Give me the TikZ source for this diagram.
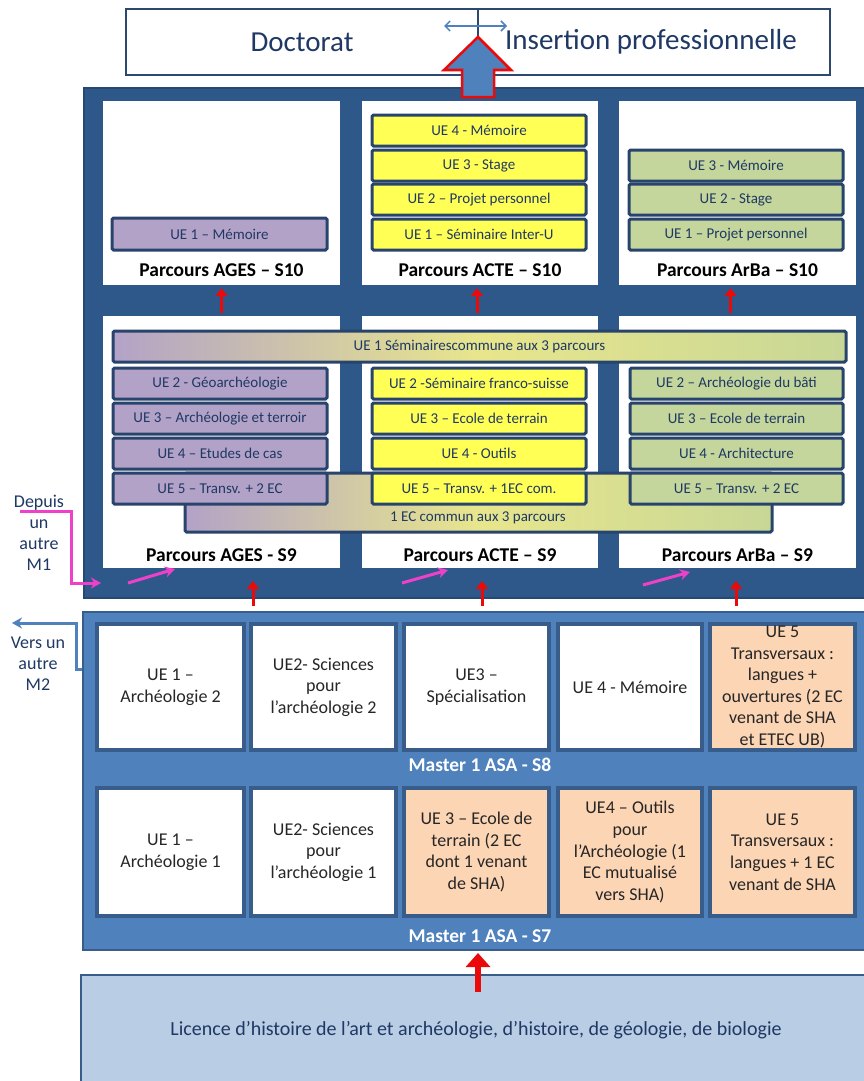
\documentclass[tikz,border=0pt]{standalone}
\usepackage{fontspec}
\setmainfont{Carlito}
\usetikzlibrary{arrows.meta,calc}
\definecolor{txtnavy}{RGB}{31,56,100}
\definecolor{panelD}{RGB}{46,88,138}
\definecolor{panelDb}{RGB}{38,72,115}
\definecolor{rowb}{RGB}{40,68,108}
\definecolor{purp}{RGB}{179,162,199}
\definecolor{yel}{RGB}{255,255,85}
\definecolor{grn}{RGB}{196,214,155}
\definecolor{peach}{RGB}{252,213,181}
\definecolor{mfill}{RGB}{79,129,189}
\definecolor{mbord}{RGB}{56,93,138}
\definecolor{licfill}{RGB}{185,205,229}
\definecolor{pinkarr}{RGB}{238,64,200}
\definecolor{redarr}{RGB}{235,10,10}
\definecolor{gradmid}{RGB}{232,230,140}
\definecolor{gradright}{RGB}{200,215,150}
\definecolor{topb}{RGB}{44,72,110}
\newcommand\mkbox[7]{%
  \pgfmathsetmacro\mkcx{(#3+#5)/2}%
  \pgfmathsetmacro\mkcy{(#4+#6)/2}%
  \pgfmathsetmacro\mkw{#5-#3}%
  \pgfmathsetmacro\mkh{#6-#4}%
  \node[#1, inner sep=0pt, minimum width=\mkw pt, minimum height=\mkh pt] (#2) at (\mkcx,\mkcy) {#7};}
\begin{document}
\begin{tikzpicture}[x=1pt,y=-1pt,
  topframe/.style={draw=topb, line width=2pt, fill=white},
  toptext/.style={font=\fontsize{29}{33}\selectfont, text=txtnavy},
  darkpanel/.style={fill=panelD, draw=panelDb, line width=1.5pt},
  whitebox/.style={fill=white},
  parc/.style={font=\bfseries\fontsize{19.5}{23}\selectfont, text=black},
  uerow/.style={draw=rowb, line width=3pt, rounded corners=1.5pt, font=\fontsize{15}{18}\selectfont, text=txtnavy},
  rowP/.style={uerow, fill=purp},
  rowY/.style={uerow, fill=yel},
  rowG/.style={uerow, fill=grn},
  gradbar/.style={uerow, left color=purp, right color=gradright, middle color=gradmid},
  mpanel/.style={fill=mfill, draw=mbord, line width=2pt},
  mbox/.style={draw=mbord, line width=3.5pt, fill=white, align=center, font=\fontsize{18}{21.6}\selectfont, text=black!85},
  mboxO/.style={mbox, fill=peach},
  mlabel/.style={font=\bfseries\fontsize{19.5}{23}\selectfont, text=white},
  licbox/.style={fill=licfill, draw=mbord, line width=2pt},
  sidetxt/.style={align=center, font=\fontsize{18}{21}\selectfont, text=txtnavy},
  redsmall/.style={draw=redarr, line width=3pt, -{Triangle[length=8pt,width=12pt]}},
  redbig/.style={draw=redarr, line width=6.5pt, -{Triangle[length=14pt,width=24pt]}},
  pinkline/.style={draw=pinkarr, line width=3pt, -{Stealth[length=10pt,width=11pt]}},
  blueline/.style={draw=mfill, line width=3pt, -{Stealth[length=10pt,width=11pt]}},
  dblarrow/.style={draw=mfill, line width=1.5pt, {Straight Barb[length=5pt,width=10pt]}-{Straight Barb[length=5pt,width=10pt]}}
]
\useasboundingbox (0,0) rectangle (864,1081);
\clip (0,0) rectangle (864,1081);

% ---------- top box ----------
\mkbox{topframe}{top}{126}{9}{830}{75}{}
\node[toptext] (doc) at (302,42) {Doctorat};
\node[toptext] (ins) at (651,42) {Insertion professionnelle};
\draw[draw=topb, line width=1.5pt] (top.north) -- ++(0,29) coordinate (divend);
\coordinate (dl) at (444,26);
\coordinate (dr) at (507,26);
\draw[dblarrow] (dl) -- (dr);

% ---------- M2 dark panel ----------
\mkbox{darkpanel}{m2}{84}{88}{866}{598}{}

% S10 white boxes
\mkbox{whitebox}{s10a}{103}{101}{340}{285}{}
\mkbox{whitebox}{s10c}{362}{101}{598}{285}{}
\mkbox{whitebox}{s10r}{619}{101}{856}{285}{}
\node[parc] (l10a) at (221.5,270) {Parcours AGES – S10};
\node[parc] (l10c) at (480,270) {Parcours ACTE – S10};
\node[parc] (l10r) at (737.5,270) {Parcours ArBa – S10};

\mkbox{rowP}{a10u1}{112}{218}{327}{250}{UE 1 – Mémoire}

\mkbox{rowY}{c10u4}{372}{115}{586}{146}{UE 4 - Mémoire}
\mkbox{rowY}{c10u3}{372}{150}{586}{181}{UE 3 - Stage}
\mkbox{rowY}{c10u2}{372}{184}{586}{215}{UE 2 – Projet personnel}
\mkbox{rowY}{c10u1}{372}{219}{586}{250}{UE 1 – Séminaire Inter-U}

\mkbox{rowG}{r10u3}{629}{150}{843}{181}{UE 3 - Mémoire}
\mkbox{rowG}{r10u2}{629}{184}{843}{215}{UE 2 - Stage}
\mkbox{rowG}{r10u1}{629}{219}{843}{250}{UE 1 – Projet personnel}

% S9 white boxes
\mkbox{whitebox}{s9a}{103}{316}{340}{568}{}
\mkbox{whitebox}{s9c}{362}{316}{598}{568}{}
\mkbox{whitebox}{s9r}{619}{316}{856}{568}{}
\node[parc] (l9a) at (221.5,555) {Parcours AGES - S9};
\node[parc] (l9c) at (480,555) {Parcours ACTE – S9};
\node[parc] (l9r) at (737.5,555) {Parcours ArBa – S9};

\mkbox{gradbar}{ue1bar}{113}{331}{846}{362}{UE 1 Séminairescommune aux 3 parcours}
\mkbox{gradbar}{ecbar}{185}{473}{772}{532}{}
\node[font=\fontsize{15}{18}\selectfont, text=txtnavy] (ectxt) at (478,518) {1 EC commun aux 3 parcours};

\mkbox{rowP}{a9u2}{113}{368}{327}{399}{UE 2 - Géoarchéologie}
\mkbox{rowP}{a9u3}{113}{403}{327}{434}{UE 3 – Archéologie et terroir}
\mkbox{rowP}{a9u4}{113}{438}{327}{469}{UE 4 – Etudes de cas}
\mkbox{rowP}{a9u5}{113}{473}{327}{504}{UE 5 – Transv. + 2 EC}

\mkbox{rowY}{c9u2}{372}{368}{586}{399}{UE 2 -Séminaire franco-suisse}
\mkbox{rowY}{c9u3}{372}{403}{586}{434}{UE 3 – Ecole de terrain}
\mkbox{rowY}{c9u4}{372}{438}{586}{469}{UE 4 - Outils}
\mkbox{rowY}{c9u5}{372}{473}{586}{504}{UE 5 – Transv. + 1EC com.}

\mkbox{rowG}{r9u2}{630}{368}{843}{399}{UE 2 – Archéologie du bâti}
\mkbox{rowG}{r9u3}{630}{403}{843}{434}{UE 3 – Ecole de terrain}
\mkbox{rowG}{r9u4}{630}{438}{843}{469}{UE 4 - Architecture}
\mkbox{rowG}{r9u5}{630}{473}{843}{504}{UE 5 – Transv. + 2 EC}

% red arrows S9 -> S10
\draw[redsmall] ([yshift=3pt]s9a.north) -- ([yshift=-3pt]s10a.south);
\draw[redsmall] ([xshift=-3pt,yshift=3pt]s9c.north) -- ([xshift=-3pt,yshift=-3pt]s10c.south);
\draw[redsmall] ([xshift=-7pt,yshift=3pt]s9r.north) -- ([xshift=-7pt,yshift=-3pt]s10r.south);

% big block arrow to top box
\draw[draw=redarr, line width=2.5pt, fill=mfill, line join=miter]
  (462,97) -- (462,70) -- (444,70) -- (divend) -- (511,70) -- (494,70) -- (494,97) -- cycle;

% ---------- M1 panel ----------
\mkbox{mpanel}{m1}{83}{612}{866}{950}{}

\mkbox{mbox}{s8u1}{97}{624}{244}{750}{UE 1 –\\Archéologie 2}
\mkbox{mbox}{s8u2}{251}{624}{396}{750}{UE2- Sciences\\pour\\l’archéologie 2}
\mkbox{mbox}{s8u3}{404}{624}{549}{750}{UE3 –\\Spécialisation}
\mkbox{mbox}{s8u4}{558}{624}{702}{750}{UE 4 - Mémoire}
\mkbox{mboxO}{s8u5}{710}{624}{855}{750}{\fontsize{18}{21}\selectfont UE 5\\Transversaux :\\langues +\\ouvertures (2 EC\\venant de SHA\\et ETEC UB)}
\node[mlabel] (s8lab) at (480,765) {Master 1 ASA - S8};

\mkbox{mbox}{s7u1}{97}{788}{244}{916}{UE 1 –\\Archéologie 1}
\mkbox{mbox}{s7u2}{251}{788}{396}{916}{UE2- Sciences\\pour\\l’archéologie 1}
\mkbox{mboxO}{s7u3}{404}{788}{549}{916}{UE 3 – Ecole de\\terrain (2 EC\\dont 1 venant\\de SHA)}
\mkbox{mboxO}{s7u4}{558}{788}{702}{916}{UE4 – Outils\\pour\\l’Archéologie (1\\EC mutualisé\\vers SHA)}
\mkbox{mboxO}{s7u5}{710}{788}{855}{916}{UE 5\\Transversaux :\\langues + 1 EC\\venant de SHA}
\node[mlabel] (s7lab) at (480,936) {Master 1 ASA - S7};

% red arrows M1 -> S9
\coordinate (ma1) at (253,606); \coordinate (mb1) at (253,581);
\coordinate (ma2) at (482,606); \coordinate (mb2) at (482,581);
\coordinate (ma3) at (736,606); \coordinate (mb3) at (736,581);
\draw[redsmall] (ma1) -- (mb1);
\draw[redsmall] (ma2) -- (mb2);
\draw[redsmall] (ma3) -- (mb3);

% pink arrows
\coordinate (pk1a) at (128,583); \coordinate (pk1b) at (175,569);
\coordinate (pk2a) at (402,583); \coordinate (pk2b) at (448,570);
\coordinate (pk3a) at (643,585); \coordinate (pk3b) at (690,572);
\draw[pinkline] (pk1a) -- (pk1b);
\draw[pinkline] (pk2a) -- (pk2b);
\draw[pinkline] (pk3a) -- (pk3b);

% side texts and arrows
\node[sidetxt] (depuis) at (39,533) {Depuis\\un\\autre\\M1};
\coordinate (pst) at (20,511);
\coordinate (pend) at (101,583);
\draw[pinkline] (pst) -- (71,511) -- (71,583) -- (pend);

\node[sidetxt] (vers) at (38,663.5) {Vers un\\autre\\M2};
\coordinate (vy) at (0,669);
\coordinate (vend) at (12,623);
\draw[blueline] (m1.west |- vy) -- (76,669) -- (76,623) -- (vend);

% ---------- Licence ----------
\mkbox{licbox}{lic}{81}{975}{870}{1095}{}
\node[font=\fontsize{20}{24}\selectfont, text=txtnavy] (lictxt) at (476,1030) {Licence d’histoire de l’art et archéologie, d’histoire, de géologie, de biologie};
\coordinate (ax) at (478,0);
\draw[redbig] ($(lic.north -| ax)+(0,18)$) -- ($(m1.south -| ax)+(0,2)$);
\end{tikzpicture}
\end{document}
